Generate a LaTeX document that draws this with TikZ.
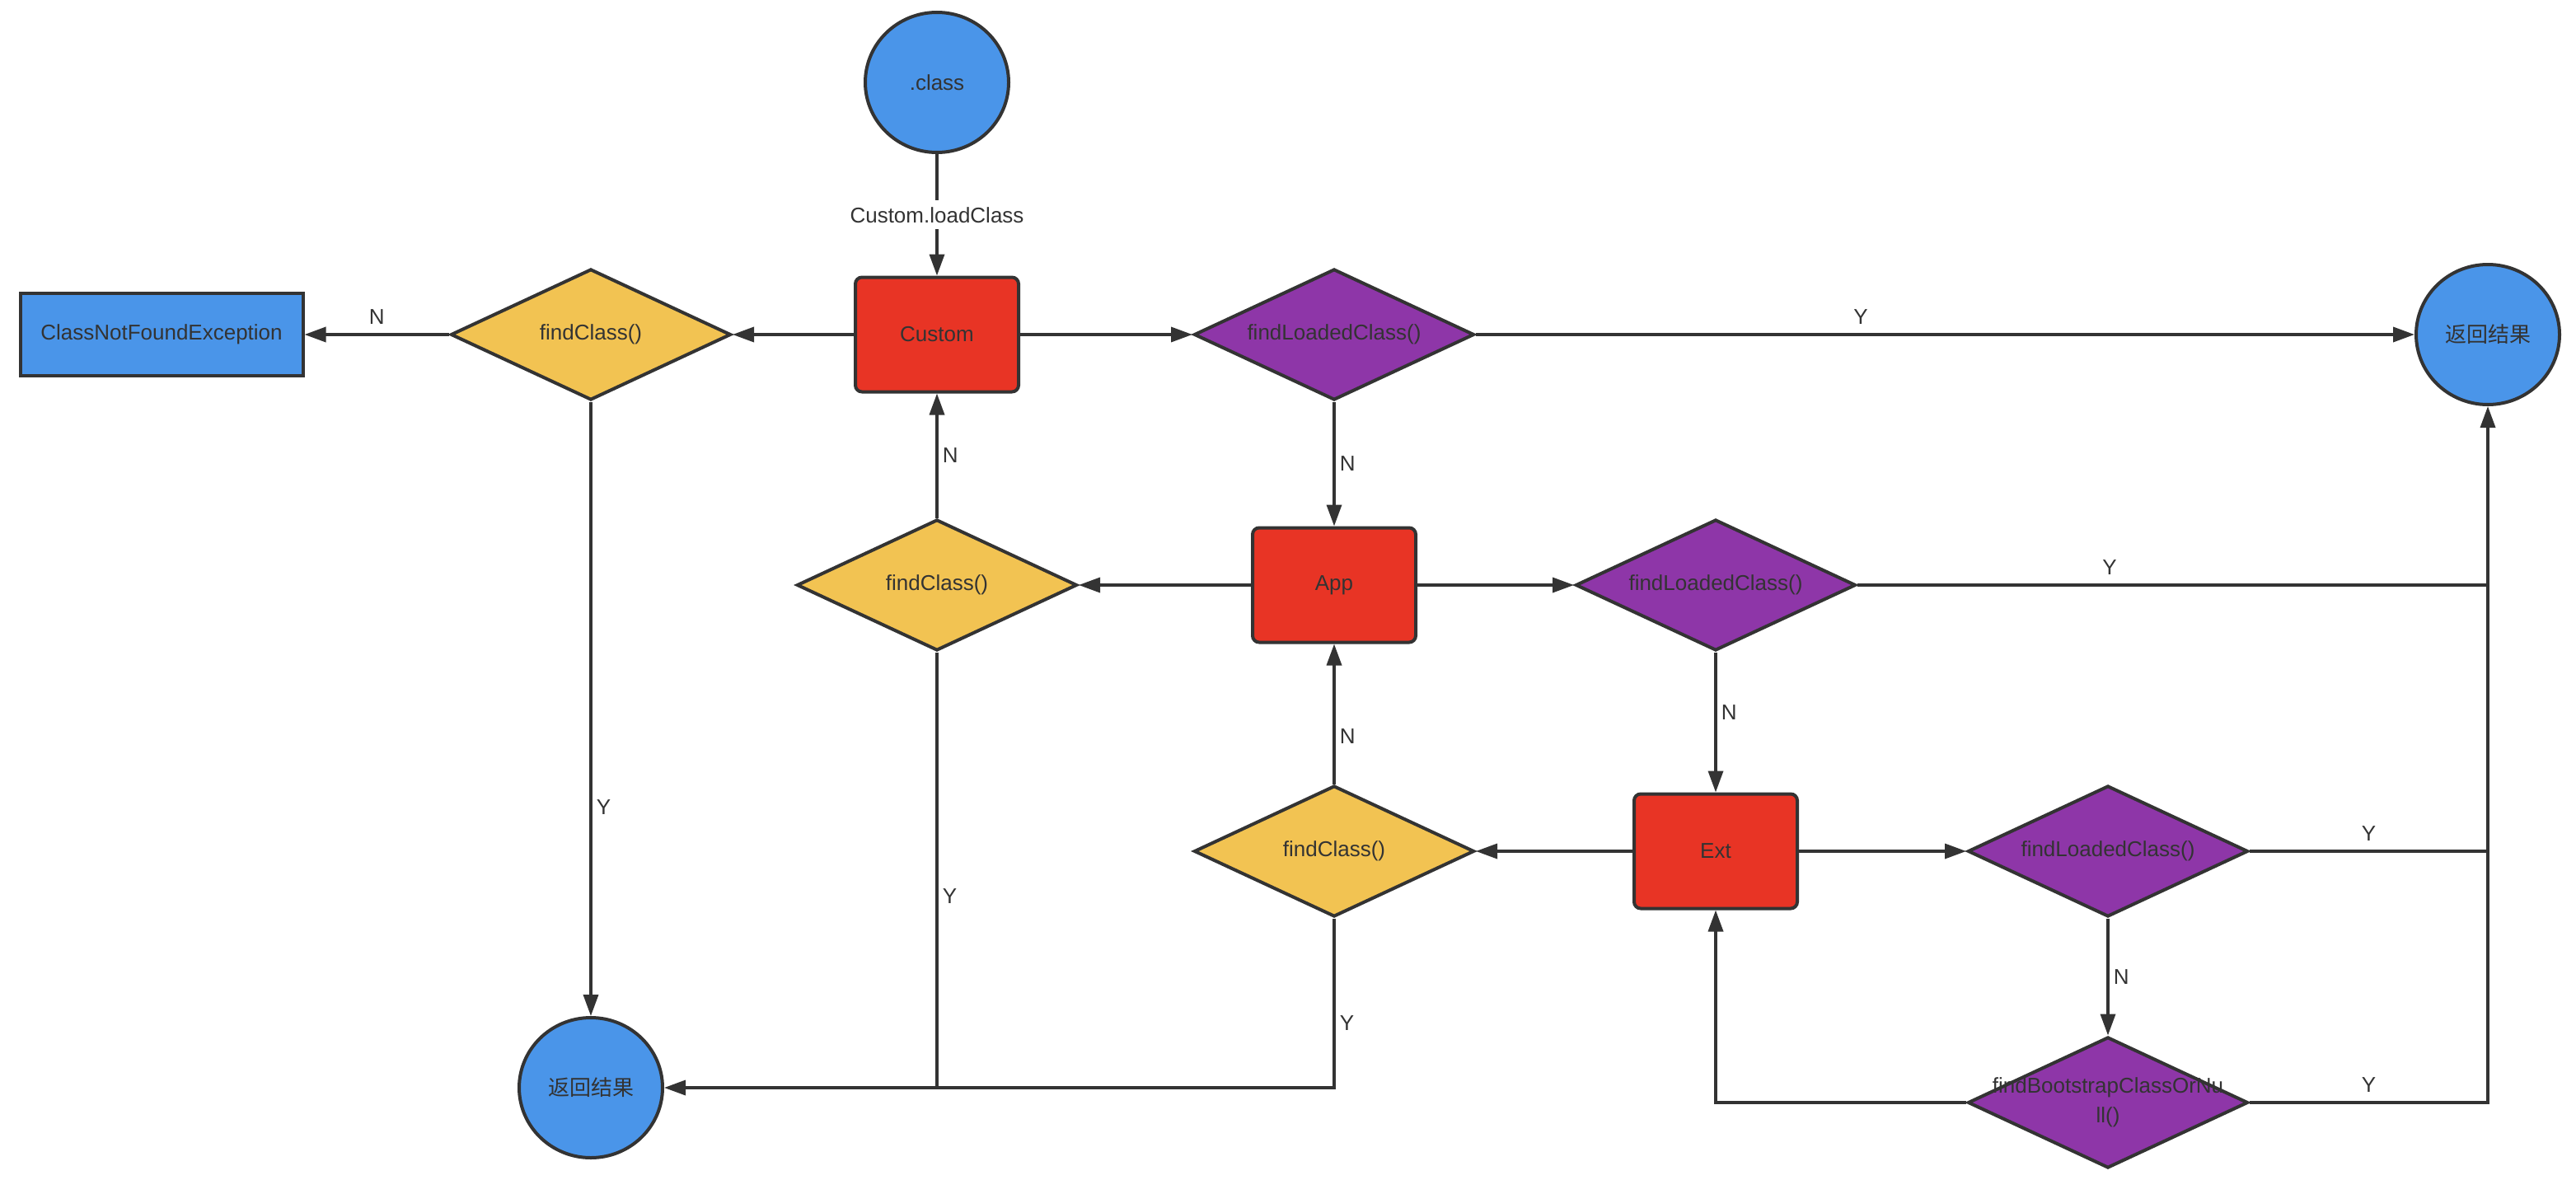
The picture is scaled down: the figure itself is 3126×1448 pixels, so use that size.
\documentclass[tikz,border=0pt]{standalone}
\usepackage{fontspec}
\setmainfont{Liberation Sans}
\newfontfamily\cjk{Noto Sans CJK SC}
\usepackage{xcolor}
\usetikzlibrary{arrows.meta,shapes.geometric}

\definecolor{ink}{HTML}{333333}
\definecolor{cblue}{HTML}{4A95E9}
\definecolor{cred}{HTML}{E83425}
\definecolor{cyellow}{HTML}{F2C352}
\definecolor{cpurple}{HTML}{8E36A8}
% zero-width text, so the diamonds keep their own size
\newcommand{\zw}[1]{\makebox[0pt]{#1}}

\begin{document}
\begin{tikzpicture}[
    x=1pt,y=-1pt,
    every node/.style={font=\fontsize{26}{36}\selectfont,text=ink},
    term/.style={ellipse,draw=ink,line width=4pt,fill=cblue,minimum width=174pt,minimum height=170pt,inner sep=0pt},
    loader/.style={rectangle,rounded corners=8pt,draw=ink,line width=4pt,fill=cred,minimum width=198pt,minimum height=139pt},
    findbox/.style={diamond,draw=ink,line width=4pt,fill=cyellow,minimum width=340pt,minimum height=159pt,inner sep=0pt},
    loadedbox/.style={findbox,fill=cpurple},
    errbox/.style={rectangle,draw=ink,line width=4pt,fill=cblue,minimum width=343pt,minimum height=100pt},
    arr/.style={draw=ink,line width=3.5pt,-{Triangle[length=26pt,width=18pt]}},
    link/.style={draw=ink,line width=3.5pt},
    yn/.style={inner xsep=5pt,inner ysep=11pt}
  ]
  \fill[white] (0,0) rectangle (3126,1448);
  \useasboundingbox (0,0) rectangle (3126,1448);

  \node[term]      (cls)    at (1137,100)  {.class};
  \node[loader]    (custom) at (1137,406)  {Custom};
  \node[findbox]   (fc1)    at (717,406)   {\zw{findClass()}};
  \node[errbox]    (cnf)    at (196,406)   {ClassNotFoundException};
  \node[loadedbox] (flc1)   at (1619,406)  {\zw{findLoadedClass()}};
  \node[term]      (ret2)   at (3019,406)  {\cjk 返回结果};
  \node[loader]    (app)    at (1619,710)  {App};
  \node[findbox]   (fc2)    at (1137,710)  {\zw{findClass()}};
  \node[loadedbox] (flc2)   at (2082,710)  {\zw{findLoadedClass()}};
  \node[loader]    (ext)    at (2082,1033) {Ext};
  \node[findbox]   (fc3)    at (1619,1033) {\zw{findClass()}};
  \node[loadedbox] (flc3)   at (2558,1033) {\zw{findLoadedClass()}};
  \node[loadedbox,align=center] (fbs) at (2558,1338) {\zw{findBootstrapClassOrNu}\\\zw{ll()}};
  \node[term]      (ret1)   at (717,1320)  {\cjk 返回结果};

  \draw[arr] (cls) -- node[fill=white,inner sep=8pt] {Custom.loadClass} (custom);
  \draw[arr] (custom) -- (fc1);
  \draw[arr] (fc1) -- node[above,yn] {N} (cnf);
  \draw[arr] (fc1) -- node[pos=0.66,right,yn] {Y} (ret1);
  \draw[arr] (custom) -- (flc1);
  \draw[arr] (flc1) -- node[pos=0.41,above,yn] {Y} (ret2);
  \draw[arr] (flc1) -- node[right,yn] {N} (app);
  \draw[arr] (app) -- (fc2);
  \draw[arr] (fc2) -- node[right,yn] {N} (custom);
  \draw[link] (fc2) -- node[pos=0.56,right,yn] {Y} (fc2 |- ret1);
  \draw[arr] (app) -- (flc2);
  \draw[link] (flc2) -- node[pos=0.4,above,yn] {Y} (ret2 |- flc2);
  \draw[arr] (flc2) -- node[pos=0.43,right,yn] {N} (ext);
  \draw[arr] (ext) -- (fc3);
  \draw[arr] (fc3) -- node[pos=0.34,right,yn] {N} (app);
  \draw[arr] (fc3.south) |- node[pos=0.31,right,yn] {Y} (ret1.east);
  \draw[arr] (ext) -- (flc3);
  \draw[link] (flc3) -- node[above,yn] {Y} (ret2 |- flc3);
  \draw[arr] (flc3) -- node[right,yn] {N} (fbs);
  \draw[arr] (fbs.east) -| node[pos=0.25,above,yn] {Y} (ret2.south);
  \draw[arr] (fbs.west) -| (ext.south);
\end{tikzpicture}
\end{document}
